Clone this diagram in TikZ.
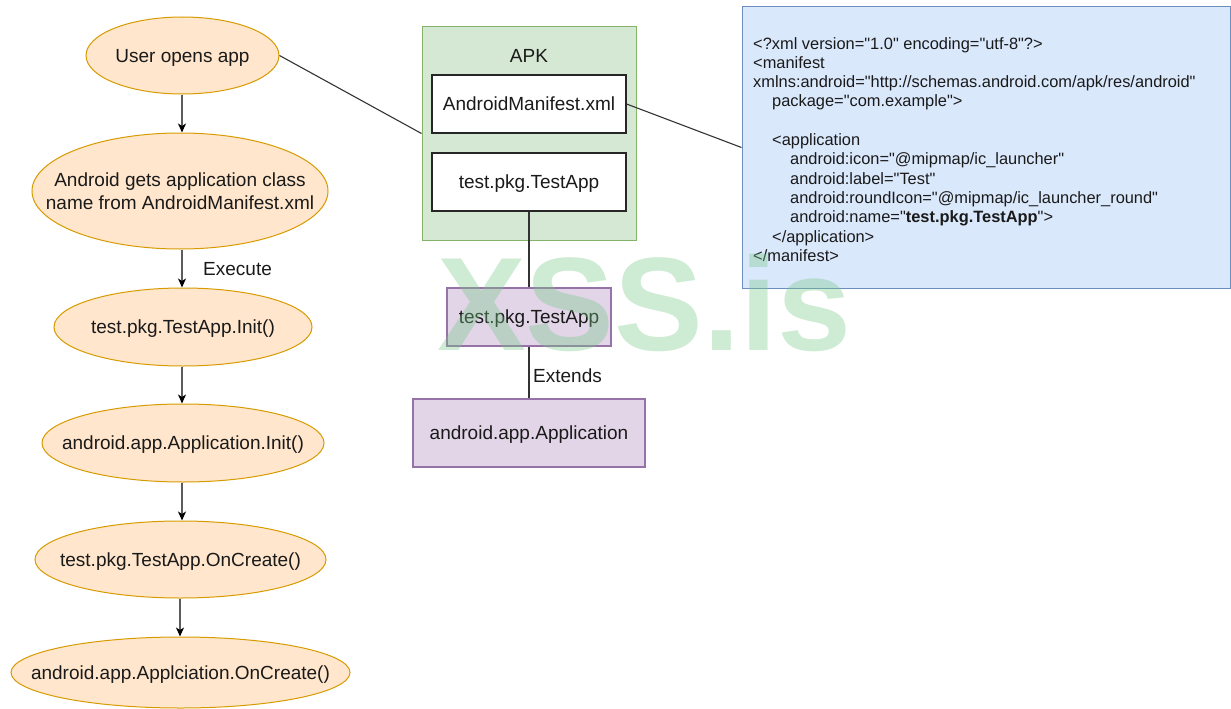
\documentclass[tikz,border=0pt]{standalone}
\usepackage{fontspec}
\setmainfont{Liberation Sans}[Ligatures=TeXOff]
\usetikzlibrary{shapes.geometric,arrows.meta}

\definecolor{orfill}{HTML}{FFE6CC}
\definecolor{ordraw}{HTML}{D79B00}
\definecolor{grfill}{HTML}{D5E8D4}
\definecolor{grdraw}{HTML}{82B366}
\definecolor{pufill}{HTML}{E1D5E7}
\definecolor{pudraw}{HTML}{9673A6}
\definecolor{blfill}{HTML}{DAE8FC}
\definecolor{bldraw}{HTML}{6C8EBF}
\definecolor{linecol}{HTML}{333333}
\definecolor{txt}{HTML}{1A1A1A}
\definecolor{wmcol}{RGB}{120,200,135}

\tikzset{
  flow/.style={ellipse, draw=ordraw, fill=orfill, line width=1pt, inner sep=0pt},
  flowtext/.style={align=center, text=txt, inner sep=0pt, text depth=0pt,
    font=\fontsize{19}{23}\selectfont},
  whitebox/.style={rectangle, draw=black!85, fill=white, line width=1.2pt, inner sep=0pt,
    text depth=0pt, text=txt, font=\fontsize{19}{23}\selectfont},
  classbox/.style={rectangle, draw=pudraw, fill=pufill, line width=1.2pt, inner sep=0pt,
    text depth=0pt, text=txt, font=\fontsize{19}{23}\selectfont},
  flowarrow/.style={draw=linecol!80, line width=1.3pt,
    -{Stealth[length=9pt,width=8pt,inset=2.5pt,color=black]}},
  link/.style={draw=linecol, line width=1.1pt},
  caption/.style={text=txt, font=\fontsize{19}{23}\selectfont, inner sep=0pt},
}

\begin{document}
\begin{tikzpicture}[x=1pt,y=-1pt]
\useasboundingbox (0,0) rectangle (1231,709);

% left column: start-up sequence (fixed-size ellipses, text set on top)
\node[flow, minimum width=193pt, minimum height=77pt] (open) at (182.5,55.5) {};
\node[flowtext] (opent) at (open) {User opens app};
\node[flow, minimum width=296pt, minimum height=116pt] (getname) at (180,191) {};
\node[flowtext] (getnamet) at (getname) {Android gets application class\\name from AndroidManifest.xml};
\node[flow, minimum width=258pt, minimum height=78pt] (tinit) at (183,327) {};
\node[flowtext] (tinitt) at (tinit) {test.pkg.TestApp.Init()};
\node[flow, minimum width=282pt, minimum height=78pt] (ainit) at (183,443) {};
\node[flowtext] (ainitt) at (ainit) {android.app.Application.Init()};
\node[flow, minimum width=291pt, minimum height=77pt] (tcreate) at (180.5,559.5) {};
\node[flowtext] (tcreatet) at (tcreate) {test.pkg.TestApp.OnCreate()};
\node[flow, minimum width=339pt, minimum height=71pt] (acreate) at (180.5,672.5) {};
\node[flowtext] (acreatet) at (acreate) {android.app.Applciation.OnCreate()};

\draw[flowarrow] (open.south -| 182,0) -- (getname.north -| 182,0);
\draw[flowarrow] (getname.south -| 182,0) -- (tinit.north -| 182,0);
\node[caption, anchor=west] (exec) at (203,269) {Execute};
\draw[flowarrow] (tinit.south -| 182,0) -- (ainit.north -| 182,0);
\draw[flowarrow] (ainit.south -| 182,0) -- (tcreate.north -| 182,0);
\draw[flowarrow] (tcreate.south -| 180,0) -- (acreate.north -| 180,0);

% APK container
\node[rectangle, draw=grdraw, fill=grfill, line width=1pt, minimum width=214pt,
  minimum height=213pt, inner sep=0pt] (apk) at (529,133.5) {};
\node[caption] (apklabel) at (529,56) {APK};
\node[whitebox, minimum width=194pt, minimum height=58pt] (manifest) at (529,104) {AndroidManifest.xml};
\node[whitebox, minimum width=194pt, minimum height=58pt] (appcls) at (529,182) {test.pkg.TestApp};

% class hierarchy
\node[classbox, minimum width=164pt, minimum height=58pt] (sub) at (529,317) {test.pkg.TestApp};
\node[classbox, minimum width=232pt, minimum height=68pt] (base) at (529,433) {android.app.Application};
\draw[link] (appcls.south) -- (sub.north);
\draw[link] (sub.south) -- (base.north);
\node[caption, anchor=west] (extends) at (533,376) {Extends};

% manifest source
\node[rectangle, draw=bldraw, fill=blfill, line width=1pt, minimum width=488pt,
  minimum height=281pt, inner sep=0pt] (xml) at (986,147.5) {};
\node[anchor=north west, align=left, inner sep=0pt, text=txt,
  font=\fontsize{16.4}{19.3}\selectfont] (xmltext) at (753,37)
  {<?xml version="1.0" encoding="utf-8"?>\\
   <manifest\\
   xmlns:android="http://schemas.android.com/apk/res/android"\\
   \hspace*{19pt}package="com.example">\\
   \strut\\
   \hspace*{19pt}<application\\
   \hspace*{37pt}android:icon="@mipmap/ic\_launcher"\\
   \hspace*{37pt}android:label="Test"\\
   \hspace*{37pt}android:roundIcon="@mipmap/ic\_launcher\_round"\\
   \hspace*{37pt}android:name="\textbf{test.pkg.TestApp}">\\
   \hspace*{19pt}</application>\\
   </manifest>};

% connectors between the groups
\draw[link] (open.east) -- (apk.west);
\draw[link] (manifest.east) -- (xml.west);

% watermark
\node[anchor=base, text=wmcol, opacity=0.36, inner sep=0pt,
  font=\fontsize{133}{133}\selectfont\bfseries] (wm) at (644,350) {XSS.is};
\end{tikzpicture}
\end{document}
